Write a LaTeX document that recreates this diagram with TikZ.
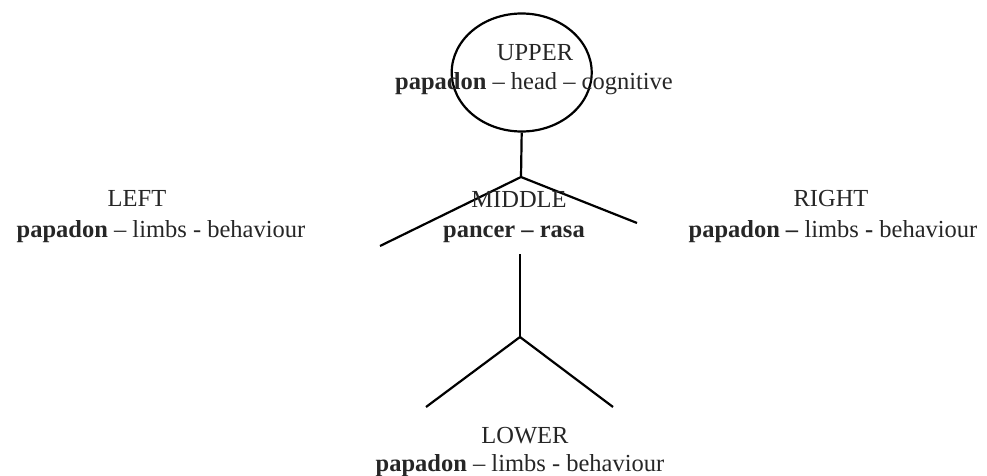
\documentclass[tikz,border=0pt]{standalone}
\usepackage{fontspec}
\setmainfont{Liberation Serif}
\usetikzlibrary{shapes.geometric}
\begin{document}
\begin{tikzpicture}[x=1pt,y=-1pt,
  stick/.style={line width=2.2pt,black},
  lbl/.style={inner sep=0pt,font=\fontsize{24.5}{28}\selectfont,text=black!85,anchor=base}]
\useasboundingbox (0,0) rectangle (987,476);
% head
\node[ellipse,draw,line width=2.2pt,minimum width=140pt,minimum height=118pt,inner sep=0pt] (head) at (521.7,72.5) {};
\coordinate (shoulder) at (521,177);
\coordinate (lhand) at (380,246);
\coordinate (rhand) at (637,223);
\coordinate (waist) at (520,254);
\coordinate (hip) at (520,337);
\coordinate (lfoot) at (426,407);
\coordinate (rfoot) at (613,407);
\draw[stick] (head.south) -- (shoulder);
\draw[stick] (lhand) -- (shoulder) -- (rhand);
\draw[stick] (waist) -- (hip);
\draw[stick] (lfoot) -- (hip) -- (rfoot);
% labels
\node[lbl] (up1) at (535,61) {UPPER};
\node[lbl] (up2) at (534,90) {\textbf{papadon} -- head -- cognitive};
\node[lbl] (mid1) at (519,207) {MIDDLE};
\node[lbl] (mid2) at (514,237) {\textbf{pancer -- rasa}};
\node[lbl] (lf1) at (137,206) {LEFT};
\node[lbl] (lf2) at (161,237) {\textbf{papadon} -- limbs - behaviour};
\node[lbl] (rt1) at (831,206) {RIGHT};
\node[lbl] (rt2) at (833,237) {\textbf{papadon --} limbs \textbf{-} behaviour};
\node[lbl] (lo1) at (525,443) {LOWER};
\node[lbl] (lo2) at (520,471) {\textbf{papadon} -- limbs - behaviour};
\end{tikzpicture}
\end{document}
